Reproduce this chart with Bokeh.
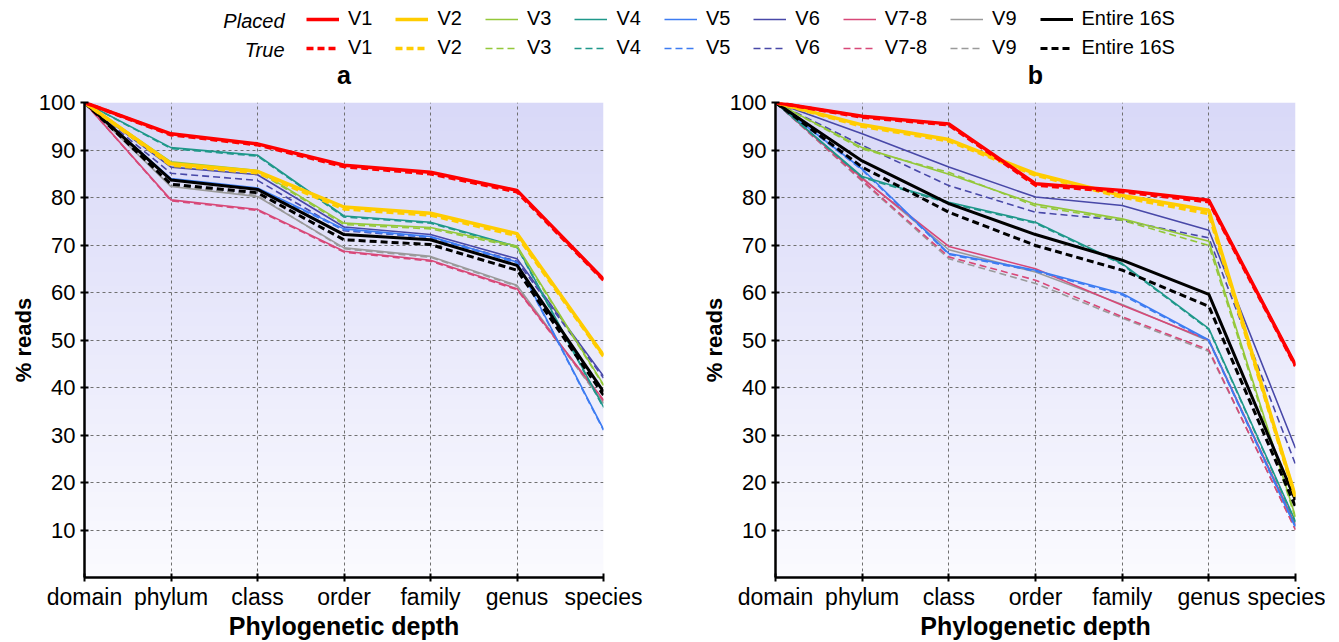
import numpy as np
from bokeh.plotting import figure
from bokeh.layouts import column, row
from bokeh.models import FixedTicker, Legend, LegendItem, Label, Range1d
from bokeh.embed import file_html
from bokeh.resources import INLINE

FONT = "Liberation Sans"

depths = ["domain", "phylum", "class", "order", "family", "genus", "species"]
regions = ["V1", "V2", "V3", "V4", "V5", "V6", "V7-8", "V9", "Entire 16S"]
panel_titles = ["a", "b"]

# ---- panel a : placed ----
a_placed_V1 = [100, 93.4, 91.3, 86.8, 85.3, 81.5, 62.8]
a_placed_V2 = [100, 87.1, 85.5, 78.0, 76.7, 72.4, 46.8]
a_placed_V3 = [100, 87.5, 85.7, 74.6, 73.7, 69.8, 40.6]
a_placed_V4 = [100, 90.5, 88.9, 76.1, 74.8, 69.7, 35.9]
a_placed_V5 = [100, 84.0, 82.0, 73.4, 71.8, 66.4, 31.2]
a_placed_V6 = [100, 86.4, 84.8, 73.8, 72.2, 67.1, 42.4]
a_placed_V78 = [100, 79.5, 77.5, 68.7, 66.8, 60.8, 37.4]
a_placed_V9 = [100, 82.3, 80.2, 69.4, 67.6, 61.5, 36.8]
a_placed_16S = [100, 83.7, 81.7, 72.2, 71.1, 65.7, 39.1]
# ---- panel a : true ----
a_true_V1 = [100, 93.2, 91.1, 86.5, 85.0, 81.2, 62.6]
a_true_V2 = [100, 86.8, 85.2, 77.6, 76.3, 72.0, 46.6]
a_true_V3 = [100, 87.3, 85.5, 74.3, 73.4, 69.5, 40.4]
a_true_V4 = [100, 90.3, 88.7, 75.9, 74.6, 69.5, 35.7]
a_true_V5 = [100, 83.8, 81.8, 73.2, 71.6, 66.2, 31.0]
a_true_V6 = [100, 85.1, 83.6, 73.0, 71.6, 66.6, 42.0]
a_true_V78 = [100, 79.3, 77.3, 68.5, 66.6, 60.6, 37.2]
a_true_V9 = [100, 82.6, 80.4, 69.2, 67.4, 61.3, 36.6]
a_true_16S = [100, 82.8, 81.0, 71.1, 70.1, 64.7, 38.4]
# ---- panel b : placed ----
b_placed_V1 = [100, 97.1, 95.5, 82.9, 81.5, 79.4, 44.7]
b_placed_V2 = [100, 95.3, 92.2, 85.0, 80.4, 77.3, 17.0]
b_placed_V3 = [100, 90.5, 84.9, 78.6, 75.5, 70.8, 12.8]
b_placed_V4 = [100, 84.4, 79.0, 74.8, 66.1, 52.4, 11.8]
b_placed_V5 = [100, 86.0, 68.2, 64.7, 59.8, 50.0, 10.7]
b_placed_V6 = [100, 93.4, 86.4, 80.1, 78.3, 73.1, 27.2]
b_placed_V78 = [100, 84.0, 69.7, 65.0, 57.3, 50.0, 11.1]
b_placed_V9 = [100, 84.2, 69.0, 64.3, 57.5, 49.8, 10.9]
b_placed_16S = [100, 87.7, 78.7, 72.2, 66.8, 59.6, 16.3]
# ---- panel b : true ----
b_true_V1 = [100, 96.9, 95.3, 82.6, 81.2, 79.1, 44.5]
b_true_V2 = [100, 95.0, 91.9, 84.7, 80.1, 76.6, 16.8]
b_true_V3 = [100, 90.2, 85.3, 78.2, 75.2, 69.9, 12.4]
b_true_V4 = [100, 84.2, 78.8, 74.6, 65.9, 52.2, 11.6]
b_true_V5 = [100, 85.8, 68.0, 64.5, 59.5, 49.8, 10.5]
b_true_V6 = [100, 91.0, 82.5, 76.9, 75.2, 71.5, 23.8]
b_true_V78 = [100, 83.6, 67.5, 62.6, 54.9, 47.9, 10.0]
b_true_V9 = [100, 83.4, 67.1, 61.9, 54.6, 47.6, 10.2]
b_true_16S = [100, 86.4, 76.9, 69.9, 64.7, 57.1, 14.9]

y_ticks = [10, 20, 30, 40, 50, 60, 70, 80, 90, 100]

a_placed = [a_placed_V1, a_placed_V2, a_placed_V3, a_placed_V4, a_placed_V5,
            a_placed_V6, a_placed_V78, a_placed_V9, a_placed_16S]
a_true = [a_true_V1, a_true_V2, a_true_V3, a_true_V4, a_true_V5,
          a_true_V6, a_true_V78, a_true_V9, a_true_16S]
b_placed = [b_placed_V1, b_placed_V2, b_placed_V3, b_placed_V4, b_placed_V5,
            b_placed_V6, b_placed_V78, b_placed_V9, b_placed_16S]
b_true = [b_true_V1, b_true_V2, b_true_V3, b_true_V4, b_true_V5,
          b_true_V6, b_true_V78, b_true_V9, b_true_16S]

colors = ["#ff0000", "#ffcc00", "#94c83a", "#1f988a", "#3d7cf2",
          "#4848a8", "#d84878", "#9a9a9a", "#000000"]
widths = [3.5, 3.5, 1.6, 1.6, 1.6, 1.6, 1.6, 1.6, 3.0]
draw_order = [7, 6, 5, 4, 3, 2, 8, 1, 0]
DASH = "7 4"

# ---- layout geometry (pixels) ----
TOTAL_H = 642
HEAD_H = 90          # legend + panel titles strip
PANEL_H = TOTAL_H - HEAD_H
BORDER_L = 84
FRAME_A = 519
BORDER_R_A = 88
FRAME_B = 520
BORDER_R_B = 30
WIDTH_A = BORDER_L + FRAME_A + BORDER_R_A
WIDTH_B = BORDER_L + FRAME_B + BORDER_R_B


def background():
    n = 200
    img = np.empty((n, 1), dtype=np.uint32)
    v = img.view(dtype=np.uint8).reshape((n, 1, 4))
    t = np.linspace(0, 1, n)
    v[:, 0, 0] = (251 + (217 - 251) * t).astype(np.uint8)
    v[:, 0, 1] = (251 + (217 - 251) * t).astype(np.uint8)
    v[:, 0, 2] = (255 + (248 - 255) * t).astype(np.uint8)
    v[:, 0, 3] = 255
    return img


def make_panel(placed, true, width, right):
    xs = list(range(len(depths)))
    p = figure(width=width, height=PANEL_H, x_range=Range1d(0, len(depths) - 1),
               y_range=Range1d(0, 100), output_backend="svg",
               toolbar_location=None, min_border_left=BORDER_L,
               min_border_right=right, min_border_top=12,
               min_border_bottom=60)
    p.outline_line_color = None
    p.background_fill_color = "white"
    p.border_fill_color = "white"
    p.image_rgba(image=[background()], x=0, y=0, dw=len(depths) - 1, dh=100,
                 level="image")
    for g in (p.xgrid, p.ygrid):
        g.grid_line_color = "#707070"
        g.grid_line_dash = "3 3"
        g.grid_line_width = 1
    p.xgrid.ticker = FixedTicker(ticks=xs)
    p.ygrid.ticker = FixedTicker(ticks=y_ticks)
    p.xaxis.ticker = FixedTicker(ticks=xs)
    p.xaxis.major_label_overrides = {i: d for i, d in enumerate(depths)}
    p.yaxis.ticker = FixedTicker(ticks=y_ticks)
    for ax in (p.xaxis, p.yaxis):
        ax.axis_line_width = 2.5
        ax.axis_line_color = "black"
        ax.major_tick_line_width = 2
        ax.major_tick_line_color = "black"
        ax.major_tick_in = 4
        ax.major_tick_out = 4
        ax.minor_tick_line_color = None
        ax.major_label_text_font = FONT
        ax.major_label_text_color = "black"
        ax.axis_label_text_font = FONT
        ax.axis_label_text_font_style = "bold"
        ax.axis_label_text_color = "black"
    p.xaxis.major_label_text_font_size = "23px"
    p.yaxis.major_label_text_font_size = "22px"
    p.xaxis.axis_label_text_font_size = "25px"
    p.yaxis.axis_label_text_font_size = "22px"
    p.xaxis.major_label_standoff = 2
    p.xaxis.axis_label_standoff = -1
    p.yaxis.major_label_standoff = 5
    p.yaxis.axis_label_standoff = 0
    p.xaxis.axis_label = "Phylogenetic depth"
    p.yaxis.axis_label = "% reads"
    for i in draw_order:
        p.line(xs, placed[i], line_color=colors[i], line_width=widths[i])
        p.line(xs, true[i], line_color=colors[i], line_width=widths[i],
               line_dash=DASH)
    return p


pa = make_panel(a_placed, a_true, WIDTH_A, BORDER_R_A)
pb = make_panel(b_placed, b_true, WIDTH_B, BORDER_R_B)

# ---- header strip: legend + panel titles ----
lf = figure(width=WIDTH_A + WIDTH_B, height=HEAD_H, x_range=Range1d(0, 1),
            y_range=Range1d(0, 1), output_backend="svg", toolbar_location=None,
            min_border=0)
lf.axis.visible = False
lf.grid.visible = False
lf.outline_line_color = None
nan2 = [float("nan"), float("nan")]
items_p, items_t = [], []
for i, name in enumerate(regions):
    r1 = lf.line(x=nan2, y=nan2, line_color=colors[i], line_width=widths[i])
    r2 = lf.line(x=nan2, y=nan2, line_color=colors[i], line_width=widths[i],
                 line_dash=DASH)
    items_p.append(LegendItem(label=name, renderers=[r1]))
    items_t.append(LegendItem(label=name, renderers=[r2]))


def mk_legend(items, y):
    return Legend(items=items, orientation="horizontal", location=(306, y),
                  glyph_width=33, glyph_height=20, label_standoff=9,
                  spacing=23, padding=0, margin=0, border_line_alpha=0,
                  background_fill_alpha=0, label_text_font=FONT,
                  label_text_font_size="20px", label_text_color="black",
                  label_height=20)


row1_c = HEAD_H - 20
row2_c = HEAD_H - 49
lf.add_layout(mk_legend(items_p, row1_c - 10), "center")
lf.add_layout(mk_legend(items_t, row2_c - 10), "center")
for txt, yy in (("Placed", row1_c), ("True", row2_c)):
    lf.add_layout(Label(x=284, y=yy, x_units="screen", y_units="screen",
                        text=txt, text_font=FONT, text_font_size="20px",
                        text_font_style="italic", text_align="right",
                        text_baseline="middle", text_color="black"))

title_x = [BORDER_L + FRAME_A / 2, WIDTH_A + BORDER_L + FRAME_B / 2]
for txt, tx in zip(panel_titles, title_x):
    lf.add_layout(Label(x=tx, y=HEAD_H - 74, x_units="screen", y_units="screen",
                        text=txt, text_font=FONT, text_font_size="25px",
                        text_font_style="bold", text_align="center",
                        text_baseline="middle", text_color="black"))

layout = column(lf, row(pa, pb))
open("out.html", "w").write(file_html(layout, INLINE))
